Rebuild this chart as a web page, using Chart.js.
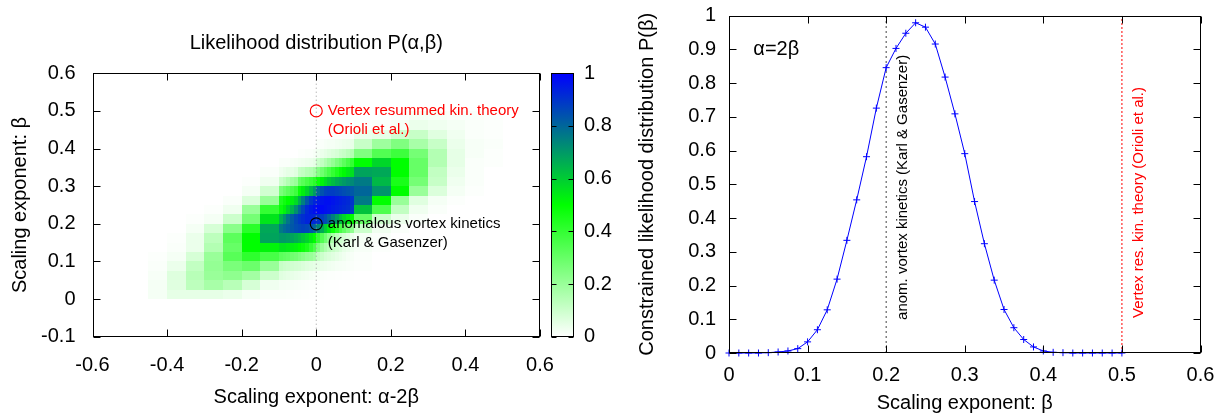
<!DOCTYPE html>
<html>
<head>
<meta charset="utf-8">
<title>Likelihood distribution</title>
<script src="https://cdn.jsdelivr.net/npm/chart.js@4.4.1/dist/chart.umd.min.js"></script>
<style>
  html, body { margin: 0; padding: 0; background: #fff; }
  #wrap { position: relative; width: 1223px; height: 415px; overflow: hidden; }
  canvas { position: absolute; top: 0; }
  #heat { left: 0; width: 570px; height: 415px; }
  #cbar { left: 545px; width: 80px; height: 415px; }
  #line { left: 625px; width: 598px; height: 415px; }
</style>
</head>
<body>
<div id="wrap">
  <canvas id="heat" width="570" height="415"></canvas>
  <canvas id="cbar" width="80" height="415"></canvas>
  <canvas id="line" width="598" height="415"></canvas>
</div>
<script>
// ---- left panel: likelihood map P(alpha, beta) ----
// bin edges along alpha-2beta (finer between -0.1 and 0.1) and along beta
const alphaEdges = [-0.45, -0.4, -0.35, -0.3, -0.25, -0.2, -0.15, -0.1,
  -0.09, -0.08, -0.07, -0.06, -0.05, -0.04, -0.03, -0.02, -0.01, 0,
  0.01, 0.02, 0.03, 0.04, 0.05, 0.06, 0.07, 0.08, 0.09, 0.1,
  0.15, 0.2, 0.25, 0.3, 0.35, 0.4, 0.45, 0.5];
const betaEdges = [0, 0.025, 0.05, 0.075, 0.1, 0.125, 0.15, 0.175, 0.2, 0.225,
  0.25, 0.275, 0.3, 0.325, 0.35, 0.375, 0.4, 0.425, 0.45, 0.475, 0.5];

// one row per beta bin (bottom to top), one value per alpha-2beta bin
const likelihood = [
  [.02,.05,.05,.05,.04,.02,.01, .01,.01,.008,.008,.006,.005,.004,.003,.002,.002, .001,.001,0,0,0,0,0,0,0,0, 0,0,0,0,0,0,0,0],
  [.02,.06,.13,.17,.14,.08,.03, .02,.02,.018,.016,.014,.012,.01,.008,.006,.005, .004,.003,.002,.002,.001,.001,0,0,0,0, 0,0,0,0,0,0,0,0],
  [.015,.065,.14,.2,.22,.18,.1, .06,.055,.05,.045,.04,.035,.03,.025,.02,.015, .012,.01,.008,.006,.005,.004,.003,.002,.001,.001, 0,0,0,0,0,0,0,0],
  [.01,.04,.12,.21,.26,.29,.2, .11,.1,.095,.09,.085,.08,.07,.06,.055,.05, .045,.04,.035,.03,.025,.02,.018,.015,.012,.01, .005,0,0,0,0,0,0,0],
  [.005,.02,.08,.2,.33,.41,.36, .32,.31,.3,.28,.27,.25,.23,.21,.2,.18, .12,.1,.08,.07,.06,.05,.04,.03,.02,.015, .008,0,0,0,0,0,0,0],
  [0,.01,.04,.15,.3,.5,.52, .55,.55,.54,.53,.52,.5,.48,.45,.4,.35, .25,.2,.16,.13,.11,.09,.07,.05,.04,.03, .015,.005,0,0,0,0,0,0],
  [0,.005,.04,.13,.32,.5,.68, .7,.7,.69,.68,.66,.64,.61,.58,.54,.5, .4,.34,.28,.22,.17,.13,.1,.08,.06,.04, .02,.01,0,0,0,0,0,0],
  [0,0,.02,.08,.23,.42,.67, .76,.79,.81,.83,.85,.86,.87,.86,.84,.8, .74,.67,.6,.54,.48,.42,.36,.31,.26,.22, .1,.03,.01,0,0,0,0,0],
  [0,0,.005,.02,.1,.27,.55, .65,.71,.77,.82,.86,.89,.91,.93,.93,.92, .9,.88,.85,.8,.75,.69,.63,.58,.54,.5, .3,.1,.04,.01,0,0,0,0],
  [0,0,0,.005,.03,.2,.4, .48,.52,.58,.65,.72,.8,.86,.92,.95,.97, .98,.98,.97,.96,.95,.94,.93,.92,.91,.89, .62,.35,.12,.03,.01,0,0,0],
  [0,0,0,0,.01,.07,.2, .44,.47,.5,.53,.57,.66,.75,.83,.89,.93, .95,.96,.97,.97,.96,.95,.94,.93,.92,.9, .76,.5,.2,.06,.02,.005,0,0],
  [0,0,0,0,0,.02,.09, .26,.29,.32,.35,.38,.48,.53,.58,.64,.7, .8,.84,.87,.88,.88,.87,.86,.85,.84,.83, .8,.71,.5,.2,.07,.02,.005,0],
  [0,0,0,0,0,.005,.03, .1,.12,.15,.18,.2,.3,.33,.36,.39,.42, .48,.52,.56,.6,.63,.66,.68,.7,.72,.73, .76,.64,.45,.27,.11,.03,.01,0],
  [0,0,0,0,0,0,.01, .03,.04,.05,.05,.06,.11,.12,.14,.15,.17, .24,.28,.32,.36,.4,.44,.48,.51,.54,.56, .68,.67,.5,.3,.12,.04,.01,0],
  [0,0,0,0,0,0,0, .01,.01,.01,.015,.02,.025,.03,.035,.04,.05, .1,.12,.15,.18,.21,.25,.28,.32,.36,.4, .5,.58,.5,.3,.15,.05,.01,.005],
  [0,0,0,0,0,0,0, 0,0,0,0,0,.005,.005,.01,.01,.015, .03,.04,.05,.06,.07,.08,.1,.11,.13,.15, .25,.34,.38,.27,.15,.05,.015,.005],
  [0,0,0,0,0,0,0, 0,0,0,0,0,0,0,0,0,0, .01,.01,.015,.02,.02,.025,.03,.035,.04,.045, .11,.19,.25,.17,.11,.04,.015,.01],
  [0,0,0,0,0,0,0, 0,0,0,0,0,0,0,0,0,0, 0,0,0,0,.005,.005,.005,.01,.01,.01, .04,.05,.09,.11,.06,.03,.01,.005],
  [0,0,0,0,0,0,0, 0,0,0,0,0,0,0,0,0,0, 0,0,0,0,0,0,0,0,0,0, .005,.01,.02,.04,.03,.02,.01,.005],
  [0,0,0,0,0,0,0, 0,0,0,0,0,0,0,0,0,0, 0,0,0,0,0,0,0,0,0,0, 0,0,.005,.02,.015,.01,.01,.005]
];

const heatXTicks = [-0.6, -0.4, -0.2, 0, 0.2, 0.4, 0.6];
const heatYTicks = [-0.1, 0, 0.1, 0.2, 0.3, 0.4, 0.5, 0.6];
const cbarTicks = [0, 0.2, 0.4, 0.6, 0.8, 1];
const orioliPoint = [{ x: 0, y: 0.5 }];
const karlPoint = [{ x: 0, y: 0.2 }];
const alphaLine = [{ x: 0, y: -0.1 }, { x: 0, y: 0.6 }];

// ---- right panel: constrained likelihood along alpha = 2 beta ----
const betaValues = [0, 0.0125, 0.025, 0.0375, 0.05, 0.0625, 0.075, 0.0875, 0.1, 0.1125,
  0.125, 0.1375, 0.15, 0.1625, 0.175, 0.1875, 0.2, 0.2125, 0.225, 0.2375,
  0.25, 0.2625, 0.275, 0.2875, 0.3, 0.3125, 0.325, 0.3375, 0.35, 0.3625,
  0.375, 0.3875, 0.4, 0.4125, 0.425, 0.4375, 0.45, 0.4625, 0.475, 0.4875, 0.5];
const constrainedP = [0, 0, 0, 0, 0.001, 0.003, 0.006, 0.013, 0.033, 0.069,
  0.128, 0.219, 0.334, 0.454, 0.582, 0.726, 0.846, 0.903, 0.948, 0.979,
  0.966, 0.916, 0.818, 0.709, 0.591, 0.449, 0.324, 0.216, 0.129, 0.075,
  0.04, 0.018, 0.006, 0.002, 0.001, 0, 0, 0, 0, 0, 0];
const lineXTicks = [0, 0.1, 0.2, 0.3, 0.4, 0.5, 0.6];
const lineYTicks = [0, 0.1, 0.2, 0.3, 0.4, 0.5, 0.6, 0.7, 0.8, 0.9, 1];
const karlBeta = 0.2;
const orioliBeta = 0.5;

const FONT = '"Liberation Sans", Arial, Helvetica, sans-serif';

// white -> green -> blue
function palette(v) {
  v = Math.max(0, Math.min(1, v));
  if (v <= 0.5) {
    const c = Math.round(255 * (1 - 2 * v));
    return 'rgb(' + c + ',255,' + c + ')';
  }
  const g = Math.round(255 * (2 - 2 * v));
  const b = Math.round(255 * (2 * v - 1));
  return 'rgb(0,' + g + ',' + b + ')';
}

function fixedTicks(values) {
  return function (scale) { scale.ticks = values.map(v => ({ value: v })); };
}
// pin the axis box size and drop the label overhang padding Chart.js adds
function fixedBox(size) {
  return function (s) {
    if (s.isHorizontal()) s.height = size; else s.width = size;
    s.paddingLeft = 0; s.paddingRight = 0; s.paddingTop = 0; s.paddingBottom = 0;
  };
}
const tickLabel = v => String(Math.round(v * 10) / 10);

function tickFont() { return { family: FONT, size: 20 }; }
const noGrid = { display: false, drawTicks: false };

function drawText(ctx, text, x, y, size, color, align, rotate) {
  ctx.save();
  ctx.font = size + 'px ' + FONT;
  ctx.fillStyle = color;
  ctx.textAlign = align;
  ctx.textBaseline = 'middle';
  ctx.translate(x, y);
  if (rotate) ctx.rotate(-Math.PI / 2);
  ctx.fillText(text, 0, 0);
  ctx.restore();
}

// frame round the plot and gnuplot-like inward ticks on all sides
function frameTicks(tickLen) {
  return {
    id: 'frameTicks',
    afterDatasetsDraw(chart) {
      const { ctx, chartArea: a } = chart;
      const L = Math.round(a.left) + 0.5, R = Math.round(a.right) - 0.5;
      const T = Math.round(a.top) + 0.5, B = Math.round(a.bottom) - 0.5;
      ctx.save();
      ctx.strokeStyle = '#000';
      ctx.lineWidth = 1;
      ctx.beginPath();
      Object.values(chart.scales).forEach(s => {
        if (!s.options.display) return;
        s.ticks.forEach(t => {
          const p = Math.round(s.getPixelForValue(t.value)) + 0.5;
          if (s.isHorizontal()) {
            ctx.moveTo(p, T); ctx.lineTo(p, T + tickLen);
            ctx.moveTo(p, B); ctx.lineTo(p, B - tickLen);
          } else {
            ctx.moveTo(L, p); ctx.lineTo(L + tickLen, p);
            ctx.moveTo(R, p); ctx.lineTo(R - tickLen, p);
          }
        });
      });
      ctx.stroke();
      ctx.strokeRect(L, T, R - L, B - T);
      ctx.restore();
    }
  };
}

const heatmapPlugin = {
  id: 'heatmap',
  beforeDatasetsDraw(chart) {
    const { ctx, scales: { x, y } } = chart;
    ctx.save();
    likelihood.forEach((row, r) => {
      const top = Math.round(y.getPixelForValue(betaEdges[r + 1]));
      const bottom = Math.round(y.getPixelForValue(betaEdges[r]));
      row.forEach((v, c) => {
        if (v <= 0) return;
        const left = Math.round(x.getPixelForValue(alphaEdges[c]));
        const right = Math.round(x.getPixelForValue(alphaEdges[c + 1]));
        ctx.fillStyle = palette(v);
        ctx.fillRect(left, top, right - left, bottom - top);
      });
    });
    ctx.restore();
  }
};

const heatLabels = {
  id: 'heatLabels',
  afterDraw(chart) {
    const { ctx, chartArea: a, scales: { x, y } } = chart;
    drawText(ctx, 'Likelihood distribution P(\u03b1,\u03b2)', (a.left + a.right) / 2, 43, 20, '#000', 'center');
    drawText(ctx, 'Vertex resummed kin. theory', x.getPixelForValue(0.031), y.getPixelForValue(0.5), 15, '#ff0000', 'left');
    drawText(ctx, '(Orioli et al.)', x.getPixelForValue(0.031), y.getPixelForValue(0.449), 15, '#ff0000', 'left');
    drawText(ctx, 'anomalous vortex kinetics', x.getPixelForValue(0.031), y.getPixelForValue(0.199), 15, '#000', 'left');
    drawText(ctx, '(Karl & Gasenzer)', x.getPixelForValue(0.031), y.getPixelForValue(0.149), 15, '#000', 'left');
  }
};

new Chart(document.getElementById('heat'), {
  type: 'scatter',
  data: {
    datasets: [
      { data: orioliPoint, pointStyle: 'circle', pointRadius: 6, pointBorderWidth: 1.2,
        pointBorderColor: '#ff0000', pointBackgroundColor: 'rgba(0,0,0,0)' },
      { data: karlPoint, pointStyle: 'circle', pointRadius: 6, pointBorderWidth: 1.2,
        pointBorderColor: '#000', pointBackgroundColor: 'rgba(0,0,0,0)' },
      { data: alphaLine, showLine: true, borderColor: '#9a9a9a', borderWidth: 1,
        borderDash: [1, 3], pointRadius: 0 }
    ]
  },
  options: {
    responsive: false,
    animation: false,
    events: [],
    layout: { padding: { top: 73.3, right: 30, left: 0, bottom: 0 } },
    plugins: { legend: { display: false }, tooltip: { enabled: false } },
    scales: {
      x: {
        type: 'linear', min: -0.6, max: 0.6,
        afterBuildTicks: fixedTicks(heatXTicks),
        afterFit: fixedBox(78.3),
        grid: noGrid, border: { display: false },
        ticks: { autoSkip: false, maxRotation: 0, padding: 17, color: '#000', font: tickFont(), callback: tickLabel },
        title: { display: true, text: 'Scaling exponent: \u03b1-2\u03b2', color: '#000', font: tickFont(), padding: { top: 0, bottom: 6 } }
      },
      y: {
        type: 'linear', min: -0.1, max: 0.6,
        afterBuildTicks: fixedTicks(heatYTicks),
        afterFit: fixedBox(92.5),
        grid: noGrid, border: { display: false },
        ticks: { autoSkip: false, padding: 17, color: '#000', font: tickFont(), callback: tickLabel },
        title: { display: true, text: 'Scaling exponent: \u03b2', color: '#000', font: tickFont(), padding: { top: 8, bottom: 0 } }
      }
    }
  },
  plugins: [heatmapPlugin, frameTicks(7), heatLabels]
});

// colour box
const colorBox = {
  id: 'colorBox',
  beforeDatasetsDraw(chart) {
    const { ctx, chartArea: a, scales: { y } } = chart;
    const g = ctx.createLinearGradient(0, y.getPixelForValue(0), 0, y.getPixelForValue(1));
    [0, 0.25, 0.5, 0.75, 1].forEach(s => g.addColorStop(s, palette(s)));
    ctx.save();
    ctx.fillStyle = g;
    ctx.fillRect(a.left, a.top, a.right - a.left, a.bottom - a.top);
    ctx.restore();
  }
};

new Chart(document.getElementById('cbar'), {
  type: 'scatter',
  data: { datasets: [] },
  options: {
    responsive: false,
    animation: false,
    events: [],
    layout: { padding: { top: 73.3, left: 6, right: 0, bottom: 78.3 } },
    plugins: { legend: { display: false }, tooltip: { enabled: false } },
    scales: {
      x: { type: 'linear', min: 0, max: 1, display: false },
      y: {
        type: 'linear', position: 'right', min: 0, max: 1,
        afterBuildTicks: fixedTicks(cbarTicks),
        afterFit: fixedBox(51),
        grid: noGrid, border: { display: false },
        ticks: { autoSkip: false, padding: 10, color: '#000', font: tickFont(), callback: tickLabel }
      }
    }
  },
  plugins: [colorBox, frameTicks(5)]
});

const lineLabels = {
  id: 'lineLabels',
  afterDraw(chart) {
    const { ctx, scales: { x, y } } = chart;
    drawText(ctx, '\u03b1=2\u03b2', x.getPixelForValue(0.031), y.getPixelForValue(0.9), 20, '#000', 'left');
    drawText(ctx, 'anom. vortex kinetics (Karl & Gasenzer)', x.getPixelForValue(0.221), y.getPixelForValue(0.098), 15, '#000', 'left', true);
    drawText(ctx, 'Vertex res. kin. theory (Orioli et al.)', x.getPixelForValue(0.522), y.getPixelForValue(0.104), 15, '#ff0000', 'left', true);
  }
};

new Chart(document.getElementById('line'), {
  type: 'scatter',
  data: {
    datasets: [
      { data: betaValues.map((b, i) => ({ x: b, y: constrainedP[i] })), showLine: true,
        borderColor: '#0000ff', borderWidth: 1, pointStyle: 'cross', pointRadius: 3.5,
        pointBorderColor: '#0000ff', pointBorderWidth: 1, clip: false },
      { data: [{ x: karlBeta, y: 0 }, { x: karlBeta, y: 1 }], showLine: true,
        borderColor: '#444', borderWidth: 1, borderDash: [2, 3], pointRadius: 0 },
      { data: [{ x: orioliBeta, y: 0 }, { x: orioliBeta, y: 1 }], showLine: true,
        borderColor: '#ff0000', borderWidth: 1, borderDash: [2, 2], pointRadius: 0 }
    ]
  },
  options: {
    responsive: false,
    animation: false,
    events: [],
    layout: { padding: { top: 15.7, right: 22.5, left: 0, bottom: 0 } },
    plugins: { legend: { display: false }, tooltip: { enabled: false } },
    scales: {
      x: {
        type: 'linear', min: 0, max: 0.6,
        afterBuildTicks: fixedTicks(lineXTicks),
        afterFit: fixedBox(62),
        grid: noGrid, border: { display: false },
        ticks: { autoSkip: false, maxRotation: 0, padding: 10, color: '#000', font: tickFont(), callback: tickLabel },
        title: { display: true, text: 'Scaling exponent: \u03b2', color: '#000', font: tickFont(), padding: { top: 0, bottom: 0 } }
      },
      y: {
        type: 'linear', min: 0, max: 1,
        afterBuildTicks: fixedTicks(lineYTicks),
        afterFit: fixedBox(104),
        grid: noGrid, border: { display: false },
        ticks: { autoSkip: false, padding: 13, color: '#000', font: tickFont(), callback: tickLabel },
        title: { display: true, text: 'Constrained likelihood distribution P(\u03b2)', color: '#000', font: tickFont(), padding: { top: 10, bottom: 0 } }
      }
    }
  },
  plugins: [frameTicks(7), lineLabels]
});
</script>
</body>
</html>
